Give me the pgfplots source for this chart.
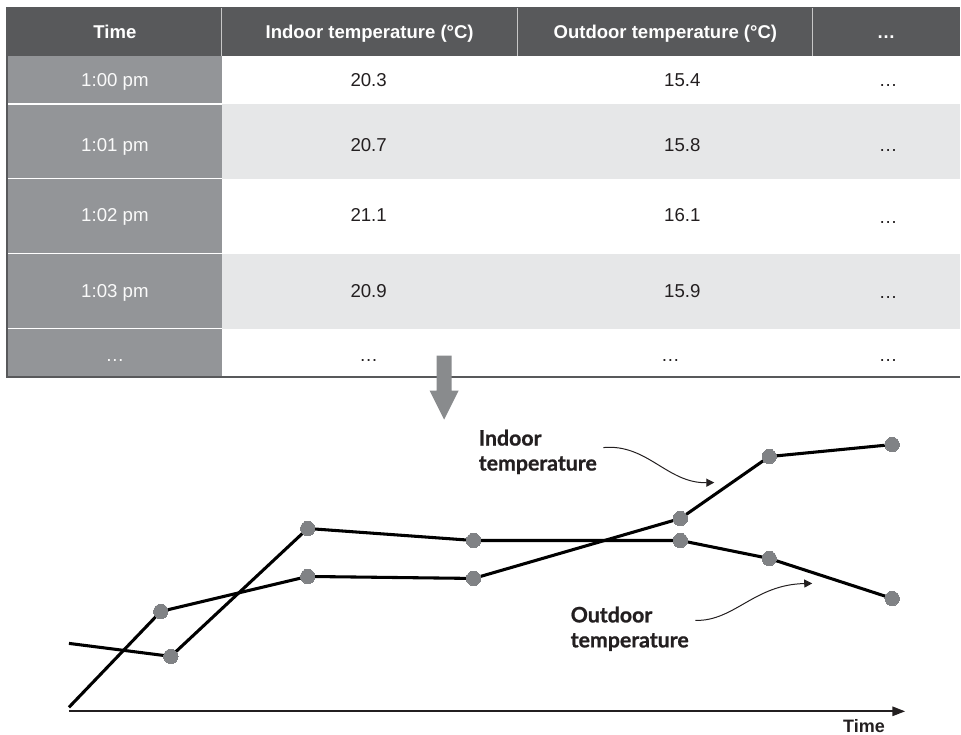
\documentclass[border=0pt]{standalone}
\usepackage{fontspec}
\setmainfont{Liberation Sans}
\newfontfamily\latofont[BoldFeatures={FakeBold=0.9}]{Lato}
\usepackage{pgfplots}
\pgfplotsset{compat=1.18}
\usetikzlibrary{arrows.meta}
\definecolor{hdr}{HTML}{58595B}
\definecolor{timecol}{HTML}{939598}
\definecolor{rowgray}{HTML}{E6E7E8}
\definecolor{markgray}{HTML}{808285}
\definecolor{ink}{HTML}{231F20}
\definecolor{arrowgray}{HTML}{898B8D}

\begin{document}
\begin{tikzpicture}
\begin{axis}[
  x=0.75pt, y=0.75pt, y dir=reverse,
  xmin=0, xmax=961, ymin=0, ymax=735,
  hide axis, scale only axis, clip=false,
]
\path (0,0) rectangle (961,735);
% ---------- table ----------
\fill[hdr] (7,7.5) rectangle (961,56);
\fill[timecol] (7,56) rectangle (222,377);
\fill[rowgray] (222,104) rectangle (961,179);
\fill[rowgray] (222,254) rectangle (961,329);
\draw[white, line width=1pt] (7,104) -- (222,104);
\draw[white, line width=1pt] (7,179) -- (222,179);
\draw[white, line width=1pt] (7,254) -- (222,254);
\draw[white, line width=1pt] (7,329) -- (222,329);
\draw[black!22, line width=0.9pt] (222,8) -- (222,56);
\draw[black!22, line width=0.9pt] (518,8) -- (518,56);
\draw[black!22, line width=0.9pt] (813,8) -- (813,56);
\draw[hdr, line width=1.4pt] (7,7.5) -- (7,377) -- (961,377);
% header text
\begin{scope}[every node/.style={anchor=base, text=white, font=\bfseries\fontsize{13.9}{16}\selectfont, inner sep=0pt}]
\node at (115,39) {Time};
\node at (370,39) {Indoor temperature (°C)};
\node at (666,39) {Outdoor temperature (°C)};
\node at (887,39) {…};
\end{scope}
% time column
\begin{scope}[every node/.style={anchor=base, text=white!95!timecol, font=\fontsize{14}{16}\selectfont, inner sep=0pt}]
\node at (115,87) {1:00 pm};
\node at (115,151.5) {1:01 pm};
\node at (115,222) {1:02 pm};
\node at (115,298) {1:03 pm};
\node at (115,362) {…};
\end{scope}
% data cells
\begin{scope}[every node/.style={anchor=base, text=ink, font=\fontsize{14}{16}\selectfont, inner sep=0pt}]
\node at (369,87) {20.3};
\node at (369,151.5) {20.7};
\node at (369,222) {21.1};
\node at (369,298) {20.9};
\node at (369,362) {…};
\node at (683,87) {15.4};
\node at (683,151.5) {15.8};
\node at (683,222) {16.1};
\node at (683,298) {15.9};
\node at (671,362) {…};
\node at (889,87) {…};
\node at (889,151.5) {…};
\node at (889,224) {…};
\node at (889,299) {…};
\node at (889,362) {…};
\end{scope}
% ---------- big arrow ----------
\fill[arrowgray] (437,356) -- (452,356) -- (452,391) -- (459,391) -- (444.5,420) -- (430,391) -- (437,391) -- cycle;
% ---------- chart ----------
\draw[ink, line width=1.3pt, -{Triangle[length=9.5pt,width=7pt]}] (69,712) -- (906,712);
\node[anchor=base east, inner sep=0pt, text=ink, font=\bfseries\fontsize{13.5}{16}\selectfont] at (886,733) {Time};

\addplot[black, line width=2.3pt, line join=round, mark=*, mark size=5.4pt,
  mark options={fill=markgray, draw=markgray, line width=0pt}, mark indices={2,3,4,5,6,7}]
  coordinates {(69,708) (161,612) (308,577) (474,579) (681,519) (770,457) (893,445)};
\addplot[black, line width=2.3pt, line join=round, mark=*, mark size=5.4pt,
  mark options={fill=markgray, draw=markgray, line width=0pt}, mark indices={2,3,4,5,6,7}]
  coordinates {(69,644) (171,657) (308,529) (474,541) (681,541) (770,559) (893,599)};

% annotations
\begin{scope}[every node/.style={anchor=base west, inner sep=0pt, text=ink, font=\latofont\bfseries\fontsize{16}{18}\selectfont}]
\node at (479,446) {Indoor};
\node at (479,471) {temperature};
\node at (571,623) {Outdoor};
\node at (571,648) {temperature};
\end{scope}
\draw[ink, line width=0.75pt, -{Triangle[length=6pt,width=6pt]}] (604,448) .. controls (648,444) and (668,484) .. (715,483);
\draw[ink, line width=0.75pt, -{Triangle[length=6pt,width=6pt]}] (696,621) .. controls (735,622) and (755,585) .. (813,584);
\end{axis}
\end{tikzpicture}
\end{document}
